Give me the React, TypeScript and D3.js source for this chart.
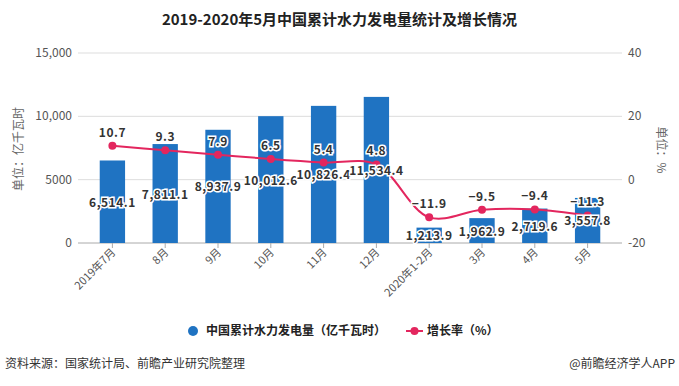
import React, { useEffect, useRef } from 'react';
import * as d3 from 'd3';

const categories = ['2019年7月', '8月', '9月', '10月', '11月', '12月', '2020年1-2月', '3月', '4月', '5月'];
const output = [6514.1, 7811.1, 8937.9, 10012.6, 10826.4, 11534.4, 1213.9, 1962.9, 2719.6, 3557.8];
const growth = [10.7, 9.3, 7.9, 6.5, 5.4, 4.8, -11.9, -9.5, -9.4, -11.3];
const leftTicks = [0, 5000, 10000, 15000];
const rightTicks = [-20, 0, 20, 40];

const W = 679;
const H = 386;
const BLUE = '#1f73c2';
const RED = '#e3265e';
const FONT = '"Microsoft YaHei", "Noto Sans CJK SC", sans-serif';

export default function App() {
  const ref = useRef<SVGSVGElement>(null);

  useEffect(() => {
    const svg = d3.select(ref.current);
    svg.selectAll('*').remove();

    const top = 53;
    const bottom = 243;
    const x = d3.scaleBand().domain(categories).range([86, 614]).paddingInner(0.52).paddingOuter(0.26);
    const yL = d3.scaleLinear().domain([0, 15000]).range([bottom, top]);
    const yR = d3.scaleLinear().domain([-20, 40]).range([bottom, top]);
    const cx = (c: string) => (x(c) as number) + x.bandwidth() / 2;

    svg.append('rect').attr('width', W).attr('height', H).attr('fill', '#fff');

    svg
      .append('text')
      .attr('x', W / 2)
      .attr('y', 25)
      .attr('text-anchor', 'middle')
      .style('font-size', '15px')
      .style('font-weight', 'bold')
      .style('fill', '#222')
      .text('2019-2020年5月中国累计水力发电量统计及增长情况');

    // grid
    svg
      .append('g')
      .selectAll('line')
      .data(leftTicks)
      .enter()
      .append('line')
      .attr('x1', 78)
      .attr('x2', 622)
      .attr('y1', d => yL(d))
      .attr('y2', d => yL(d))
      .attr('stroke', d => (d === 0 ? '#aaa' : '#ddd'))
      .attr('stroke-width', 1);

    svg
      .append('g')
      .selectAll('text')
      .data(leftTicks)
      .enter()
      .append('text')
      .attr('x', 72)
      .attr('y', d => yL(d) + 4)
      .attr('text-anchor', 'end')
      .style('font-size', '12px')
      .style('fill', '#555')
      .text(d => (d >= 10000 ? d3.format(',')(d) : String(d)));

    svg
      .append('g')
      .selectAll('text')
      .data(rightTicks)
      .enter()
      .append('text')
      .attr('x', 628)
      .attr('y', d => yR(d) + 4)
      .attr('text-anchor', 'start')
      .style('font-size', '12px')
      .style('fill', '#555')
      .text(d => String(d));

    svg
      .append('text')
      .attr('transform', 'translate(23,149) rotate(-90)')
      .attr('text-anchor', 'middle')
      .style('font-size', '12px')
      .style('fill', '#666')
      .text('单位：亿千瓦时');

    svg
      .append('text')
      .attr('transform', 'translate(657,150) rotate(90)')
      .attr('text-anchor', 'middle')
      .style('font-size', '12px')
      .style('fill', '#666')
      .text('单位：%');

    // x ticks + labels
    const xg = svg.append('g');
    categories.forEach(c => {
      xg.append('line')
        .attr('x1', cx(c))
        .attr('x2', cx(c))
        .attr('y1', bottom)
        .attr('y2', bottom + 5)
        .attr('stroke', '#aaa');
      xg.append('text')
        .attr('transform', `translate(${cx(c) + 4},${bottom + 10}) rotate(-45)`)
        .attr('text-anchor', 'end')
        .style('font-size', '11px')
        .style('fill', '#555')
        .text(c);
    });

    // bars
    svg
      .append('g')
      .selectAll('rect')
      .data(output)
      .enter()
      .append('rect')
      .attr('x', (d, i) => x(categories[i]) as number)
      .attr('y', d => yL(d))
      .attr('width', x.bandwidth())
      .attr('height', d => bottom - yL(d))
      .attr('fill', BLUE);

    // line
    const line = d3
      .line<number>()
      .x((d, i) => cx(categories[i]))
      .y(d => yR(d))
      .curve(d3.curveCatmullRom.alpha(0.5));

    svg
      .append('path')
      .attr('d', line(growth))
      .attr('fill', 'none')
      .attr('stroke', RED)
      .attr('stroke-width', 2);

    svg
      .append('g')
      .selectAll('circle')
      .data(growth)
      .enter()
      .append('circle')
      .attr('cx', (d, i) => cx(categories[i]))
      .attr('cy', d => yR(d))
      .attr('r', 4)
      .attr('fill', RED);

    const label = (g: d3.Selection<SVGGElement, unknown, null, undefined>, xx: number, yy: number, t: string) => {
      g.append('text')
        .attr('x', xx)
        .attr('y', yy)
        .attr('text-anchor', 'middle')
        .style('font-size', '12px')
        .style('font-weight', 'bold')
        .style('fill', '#333')
        .style('stroke', '#fff')
        .style('stroke-width', 3)
        .style('paint-order', 'stroke')
        .style('letter-spacing', '0.5px')
        .text(t);
    };

    const lg = svg.append('g');
    output.forEach((v, i) => {
      label(lg, cx(categories[i]), (yL(v) + bottom) / 2 + 5, d3.format(',.1f')(v));
    });
    growth.forEach((v, i) => {
      label(lg, cx(categories[i]), yR(v) - 9, v < 0 ? '\u2212' + Math.abs(v).toFixed(1) : v.toFixed(1));
    });

    // legend
    const leg = svg.append('g');
    leg.append('circle').attr('cx', 193).attr('cy', 331).attr('r', 5).attr('fill', BLUE);
    leg.append('text')
      .attr('x', 206)
      .attr('y', 335)
      .style('font-size', '12px')
      .style('font-weight', 600)
      .style('fill', '#222')
      .text('中国累计水力发电量（亿千瓦时）');
    leg.append('line')
      .attr('x1', 406)
      .attr('x2', 423)
      .attr('y1', 331)
      .attr('y2', 331)
      .attr('stroke', RED)
      .attr('stroke-width', 2);
    leg.append('circle').attr('cx', 414.5).attr('cy', 331).attr('r', 4).attr('fill', RED);
    leg.append('text')
      .attr('x', 427)
      .attr('y', 335)
      .style('font-size', '12px')
      .style('font-weight', 600)
      .style('fill', '#222')
      .text('增长率（%）');

    svg
      .append('text')
      .attr('x', 5)
      .attr('y', 368)
      .style('font-size', '12px')
      .style('fill', '#333')
      .text('资料来源：国家统计局、前瞻产业研究院整理');
    svg
      .append('text')
      .attr('x', 675)
      .attr('y', 368)
      .attr('text-anchor', 'end')
      .style('font-size', '12px')
      .style('fill', '#333')
      .text('@前瞻经济学人APP');
  }, []);

  return (
    <svg
      ref={ref}
      width={W}
      height={H}
      style={{ position: 'absolute', left: 0, top: 0, fontFamily: FONT }}
    />
  );
}
